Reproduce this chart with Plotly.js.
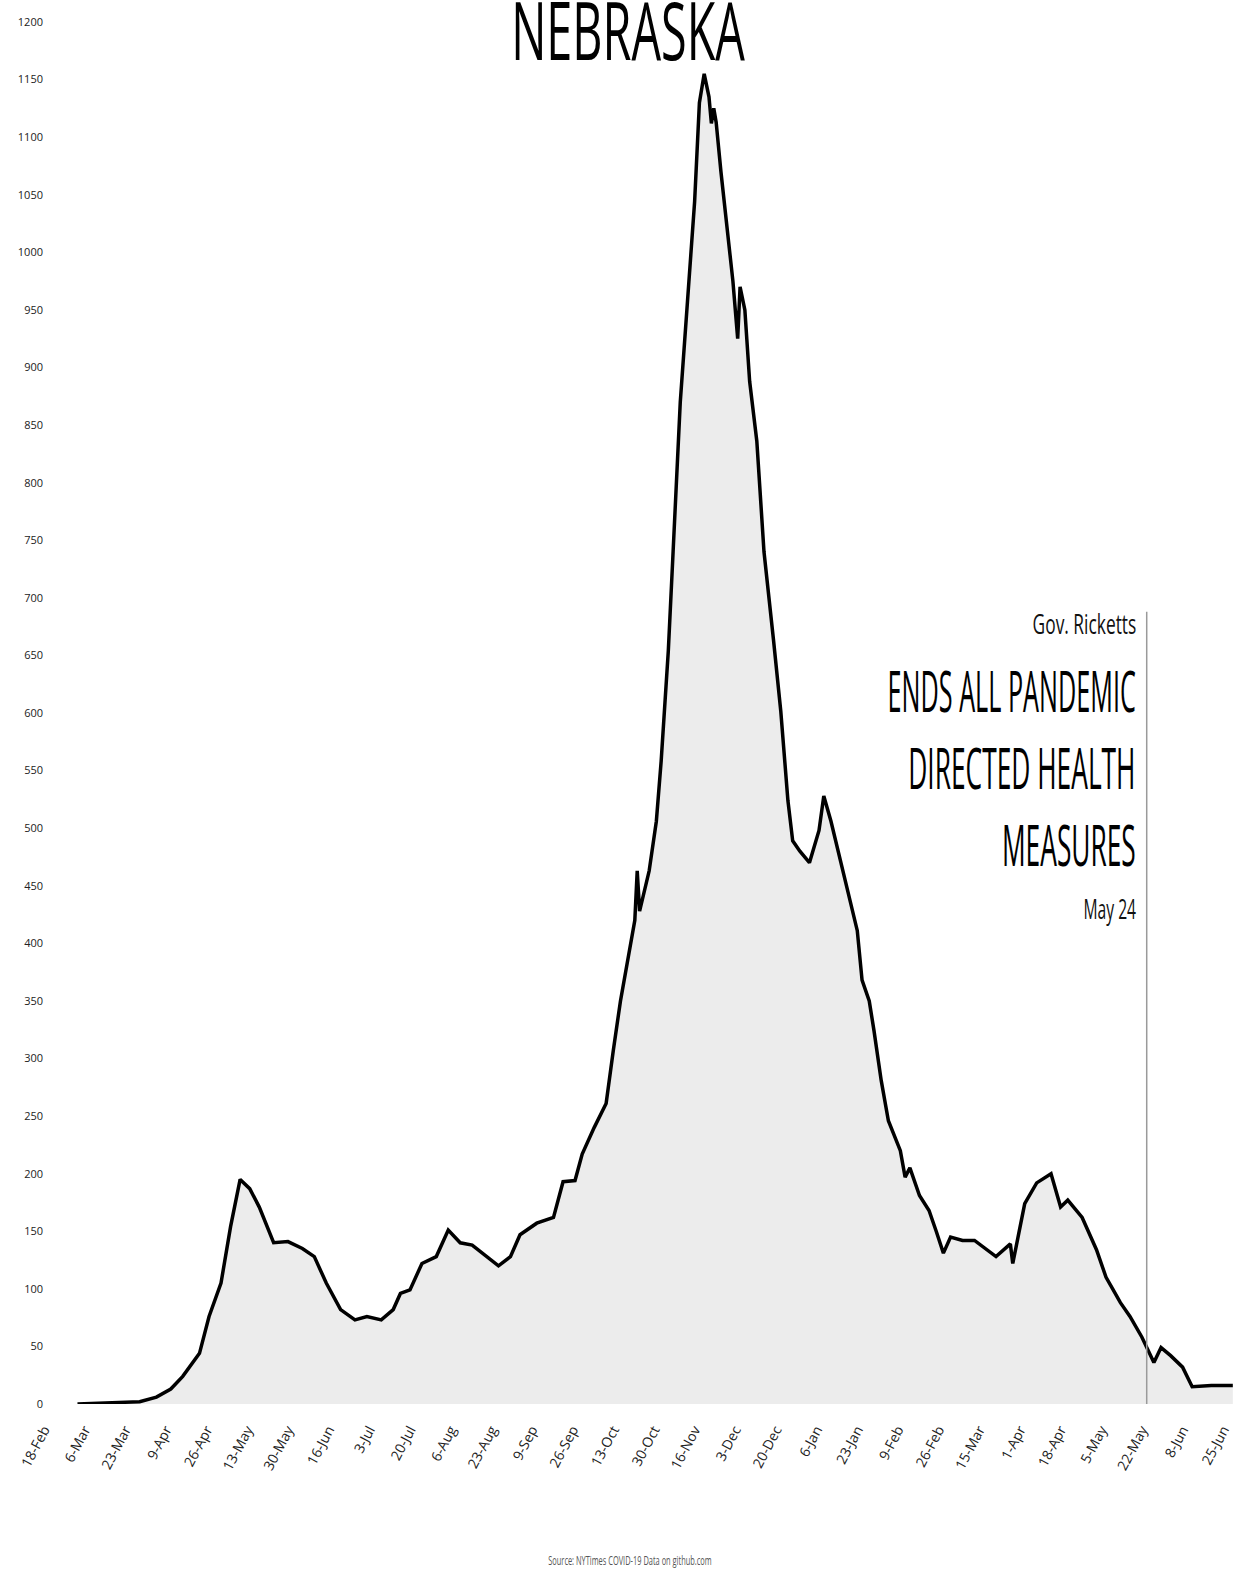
<!DOCTYPE html>
<html>
<head>
<meta charset="utf-8">
<script src="https://cdn.plot.ly/plotly-3.0.1.min.js"></script>
<style>
  html, body { margin: 0; padding: 0; background: #ffffff; }
  #chart { width: 1243px; height: 1574px; }
</style>
</head>
<body>
<div id="chart"></div>
<script>
// ---- data ----
const dates = [
  '2020-03-03','2020-03-21','2020-03-29','2020-04-05','2020-04-11','2020-04-16','2020-04-23','2020-04-27',
  '2020-05-02','2020-05-06','2020-05-10','2020-05-14','2020-05-18','2020-05-24','2020-05-30','2020-06-05',
  '2020-06-10','2020-06-15','2020-06-21','2020-06-27','2020-07-02','2020-07-08','2020-07-13','2020-07-16',
  '2020-07-20','2020-07-25','2020-07-31','2020-08-05','2020-08-10','2020-08-15','2020-08-21','2020-08-26',
  '2020-08-31','2020-09-04','2020-09-11','2020-09-18','2020-09-22','2020-09-27','2020-09-30','2020-10-05',
  '2020-10-10','2020-10-12','2020-10-13','2020-10-16','2020-10-19','2020-10-22','2020-10-23','2020-10-24',
  '2020-10-28','2020-10-31','2020-11-02','2020-11-05','2020-11-07','2020-11-10','2020-11-13','2020-11-16',
  '2020-11-18','2020-11-20','2020-11-22','2020-11-23','2020-11-24','2020-11-25','2020-11-27','2020-11-30',
  '2020-12-02','2020-12-04','2020-12-05','2020-12-07','2020-12-09','2020-12-12','2020-12-15','2020-12-19',
  '2020-12-22','2020-12-25','2020-12-27','2020-12-30','2021-01-03','2021-01-07','2021-01-09','2021-01-12',
  '2021-01-15','2021-01-18','2021-01-20','2021-01-23','2021-01-25','2021-01-28','2021-01-30','2021-02-02',
  '2021-02-05','2021-02-10','2021-02-12','2021-02-14','2021-02-18','2021-02-22','2021-02-25','2021-02-28',
  '2021-03-03','2021-03-08','2021-03-13','2021-03-17','2021-03-22','2021-03-28','2021-03-29','2021-04-03',
  '2021-04-08','2021-04-14','2021-04-18','2021-04-21','2021-04-27','2021-05-03','2021-05-07','2021-05-10',
  '2021-05-13','2021-05-17','2021-05-22','2021-05-27','2021-05-30','2021-06-03','2021-06-08','2021-06-12',
  '2021-06-20','2021-06-29'
];
const cases = [
  0,1,2,6,13,24,44,76,
  105,154,195,187,171,140,141,135,
  128,105,82,73,76,73,82,96,
  99,122,128,151,140,138,128,120,
  128,147,157,162,193,194,217,240,
  261,295,307,350,385,420,463,428,
  463,506,558,654,740,870,957,1044,
  1130,1155,1135,1112,1125,1113,1070,1010,
  975,925,970,950,888,836,740,663,
  602,524,489,480,470,498,528,506,
  480,454,437,411,368,350,324,281,
  246,220,197,205,181,168,150,131,
  145,142,142,136,128,139,122,174,
  192,200,171,177,162,134,110,99,
  88,76,58,36,49,42,32,15,
  16,16
];
const tickDates = [
  '2020-02-18','2020-03-06','2020-03-23','2020-04-09','2020-04-26','2020-05-13','2020-05-30','2020-06-16',
  '2020-07-03','2020-07-20','2020-08-06','2020-08-23','2020-09-09','2020-09-26','2020-10-13','2020-10-30',
  '2020-11-16','2020-12-03','2020-12-20','2021-01-06','2021-01-23','2021-02-09','2021-02-26','2021-03-15',
  '2021-04-01','2021-04-18','2021-05-05','2021-05-22','2021-06-08','2021-06-25'
];
const tickLabels = [
  '18-Feb','6-Mar','23-Mar','9-Apr','26-Apr','13-May','30-May','16-Jun',
  '3-Jul','20-Jul','6-Aug','23-Aug','9-Sep','26-Sep','13-Oct','30-Oct',
  '16-Nov','3-Dec','20-Dec','6-Jan','23-Jan','9-Feb','26-Feb','15-Mar',
  '1-Apr','18-Apr','5-May','22-May','8-Jun','25-Jun'
];
const eventDate = '2021-05-24';
const eventTexts = ['Gov. Ricketts', 'ENDS ALL PANDEMIC', 'DIRECTED HEALTH', 'MEASURES', 'May 24'];
const titleText = 'NEBRASKA';
const sourceText = 'Source: NYTimes COVID-19 Data on github.com';

// ---- chart ----
const FONT = 'Open Sans, DejaVu Sans, sans-serif';

const trace = {
  x: dates, y: cases, type: 'scatter', mode: 'lines',
  line: { color: '#000000', width: 3.5, shape: 'linear' },
  fill: 'tozeroy', fillcolor: '#ececec',
  hoverinfo: 'x+y'
};

const annotations = [
  { text: titleText, xref: 'paper', yref: 'paper', x: 0.488, y: 0.9955, xanchor: 'center', yanchor: 'middle',
    showarrow: false, font: { family: FONT, size: 80, color: '#000' } },
  { text: eventTexts[0], xref: 'paper', yref: 'paper', x: 0.915, y: 0.565, xanchor: 'right', yanchor: 'middle',
    showarrow: false, font: { family: FONT, size: 28, color: '#111' } },
  { text: eventTexts[1], xref: 'paper', yref: 'paper', x: 0.915, y: 0.517, xanchor: 'right', yanchor: 'middle',
    showarrow: false, font: { family: FONT, size: 56, color: '#000' } },
  { text: eventTexts[2], xref: 'paper', yref: 'paper', x: 0.915, y: 0.461, xanchor: 'right', yanchor: 'middle',
    showarrow: false, font: { family: FONT, size: 56, color: '#000' } },
  { text: eventTexts[3], xref: 'paper', yref: 'paper', x: 0.915, y: 0.405, xanchor: 'right', yanchor: 'middle',
    showarrow: false, font: { family: FONT, size: 56, color: '#000' } },
  { text: eventTexts[4], xref: 'paper', yref: 'paper', x: 0.915, y: 0.359, xanchor: 'right', yanchor: 'middle',
    showarrow: false, font: { family: FONT, size: 28, color: '#111' } },
  { text: sourceText, xref: 'paper', yref: 'paper', x: 0.49, y: -0.113, xanchor: 'center', yanchor: 'middle',
    showarrow: false, font: { family: FONT, size: 12, color: '#555' } }
];
// horizontal squeeze per annotation (condensed look of the original lettering)
const squeeze = [
  { s: 0.585, o: 'center center' },
  { s: 0.62, o: 'right center' },
  { s: 0.45, o: 'right center' },
  { s: 0.47, o: 'right center' },
  { s: 0.47, o: 'right center' },
  { s: 0.56, o: 'right center' },
  { s: 0.62, o: 'center center' }
];

const layout = {
  width: 1243, height: 1574,
  margin: { l: 44, r: 3, t: 22, b: 170 },
  paper_bgcolor: '#ffffff', plot_bgcolor: '#ffffff',
  showlegend: false,
  xaxis: {
    type: 'date', range: ['2020-02-18', '2021-07-02'],
    tickmode: 'array', tickvals: tickDates, ticktext: tickLabels,
    tickangle: -62, ticks: '', showgrid: false, zeroline: false, showline: false,
    ticklabelstandoff: 14,
    tickfont: { family: FONT, size: 14, color: '#222' }
  },
  yaxis: {
    range: [0, 1200], tick0: 0, dtick: 50, ticks: '',
    showgrid: false, zeroline: false, showline: false,
    tickfont: { family: FONT, size: 11, color: '#222' }
  },
  shapes: [
    { type: 'line', xref: 'x', yref: 'y', x0: eventDate, x1: eventDate, y0: 0, y1: 688,
      line: { color: '#9a9a9a', width: 1.5 } }
  ],
  annotations: annotations
};

Plotly.newPlot('chart', [trace], layout, { displayModeBar: false, staticPlot: true }).then(function () {
  document.querySelectorAll('g.annotation').forEach(function (g) {
    const i = +g.getAttribute('data-index');
    const t = g.querySelector('text');
    if (!t || !squeeze[i]) return;
    t.style.transformBox = 'fill-box';
    t.style.transformOrigin = squeeze[i].o;
    t.style.transform = 'scaleX(' + squeeze[i].s + ')';
  });
});
</script>
</body>
</html>
